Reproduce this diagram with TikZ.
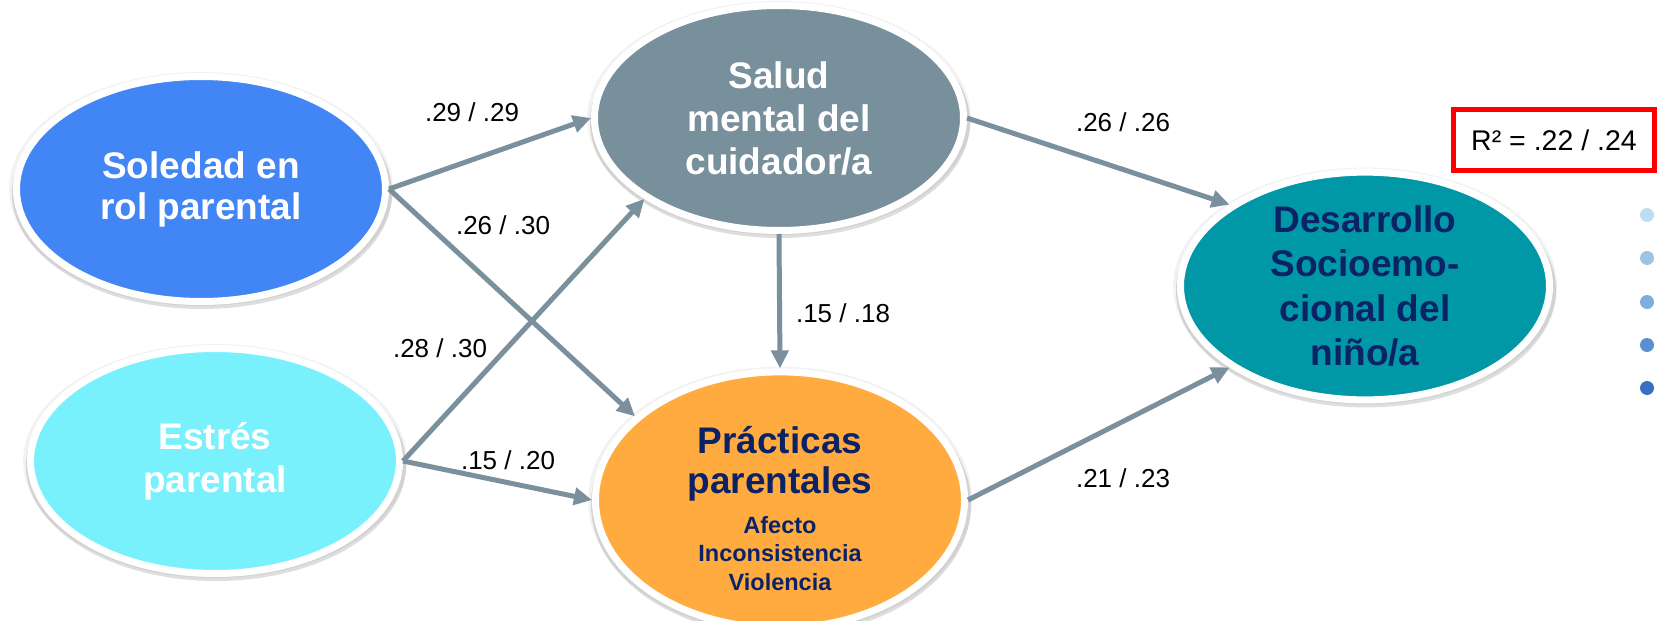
\documentclass[tikz,border=0pt]{standalone}
\usepackage{fontspec}
\setmainfont{Liberation Sans}
\usetikzlibrary{arrows.meta,shapes.geometric,shadows}
\definecolor{solblue}{HTML}{4285F4}
\definecolor{salgray}{HTML}{788F9C}
\definecolor{estcyan}{HTML}{78F1FC}
\definecolor{pracorange}{HTML}{FFAB40}
\definecolor{desteal}{HTML}{0097A7}
\definecolor{navy}{HTML}{0B2366}
\definecolor{arrowgray}{HTML}{7A909C}
\definecolor{dotA}{HTML}{BDDDF1}
\definecolor{dotB}{HTML}{9DC3E3}
\definecolor{dotC}{HTML}{7EAEDB}
\definecolor{dotD}{HTML}{5B8FD0}
\definecolor{dotE}{HTML}{3A6FC1}
\tikzset{
  ell/.style={ellipse, draw=white, line width=7pt, minimum width=369pt, minimum height=225pt,
    inner sep=0pt, align=center, font=\bfseries\fontsize{37}{43}\selectfont,
    drop shadow={shadow xshift=0pt, shadow yshift=0pt, shadow scale=1.04, opacity=0.05, fill=black},
    drop shadow={shadow xshift=1pt, shadow yshift=-4pt, shadow scale=1.03, opacity=0.13, fill=black}},
  arr/.style={draw=arrowgray, line width=5pt, -{Triangle[length=18pt,width=17pt]}},
  lbl/.style={font=\fontsize{26}{30}\selectfont, inner sep=0pt, text=black},
}
\begin{document}
\begin{tikzpicture}[x=1pt,y=-1pt]
\path[use as bounding box, fill=white] (0,0) rectangle (1657,621);

\node[ell, fill=solblue, text=white, font=\bfseries\fontsize{37}{41}\selectfont] (sol) at (201,189) {Soledad en\\rol parental};
\node[ell, fill=salgray, text=white] (sal) at (779,118) {Salud\\mental del\\cuidador/a};
\node[ell, fill=estcyan, text=white] (est) at (215,461) {Estrés\\parental};
\node[ell, fill=pracorange, text=navy, font=\bfseries\fontsize{37}{40}\selectfont] (prac) at (780,500)
  {\rule{0pt}{44pt}Prácticas\\parentales\\
   \fontsize{23.5}{28}\selectfont Afecto\\[-11.5pt]
   \fontsize{23.5}{28}\selectfont Inconsistencia\\[-11.5pt]
   \fontsize{23.5}{28}\selectfont Violencia};
\node[ell, fill=desteal, text=navy, font=\bfseries\fontsize{37}{44.5}\selectfont] (des) at (1365,286)
  {Desarrollo\\Socioemo-\\cional del\\niño/a};

\draw[arr] (sol.east) -- (sal.west);
\draw[arr] (sol.east) -- (prac.150);
\draw[arr] (est.east) -- (sal.211);
\draw[arr] (est.east) -- (prac.west);
\draw[arr] (sal.south) -- (prac.north);
\draw[arr] (sal.east) -- (des.149);
\draw[arr] (prac.east) -- (des.211);

\node[lbl] (l1) at (472,112) {.29 / .29};
\node[lbl] (l2) at (503,225) {.26 / .30};
\node[lbl] (l3) at (440,348) {.28 / .30};
\node[lbl] (l4) at (508,460) {.15 / .20};
\node[lbl] (l5) at (843,313) {.15 / .18};
\node[lbl] (l6) at (1123,122) {.26 / .26};
\node[lbl] (l7) at (1123,478) {.21 / .23};

\node[draw=red, line width=5pt, minimum width=201pt, minimum height=61pt, inner sep=0pt,
  font=\fontsize{28.5}{32}\selectfont] (r2) at (1554,140) {R² = .22 / .24};

\fill[dotA] (1647,215) circle (7pt);
\fill[dotB] (1647,258) circle (7pt);
\fill[dotC] (1647,302) circle (7pt);
\fill[dotD] (1647,345) circle (7pt);
\fill[dotE] (1647,388) circle (7pt);
\end{tikzpicture}
\end{document}
